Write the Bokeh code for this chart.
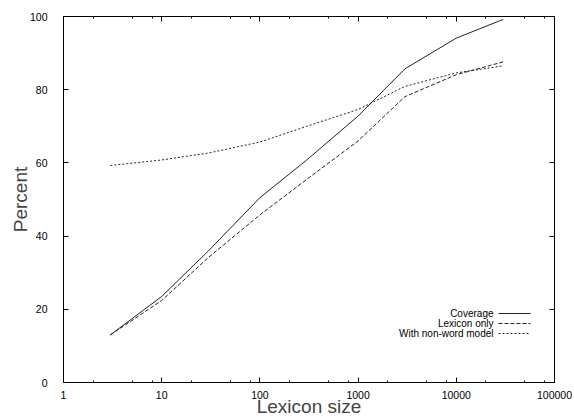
from bokeh.plotting import figure
from bokeh.models import (FixedTicker, LogAxis, LinearAxis, Label, Arrow, Range1d)
from bokeh.embed import file_html
from bokeh.resources import INLINE

# ---- data ----
lexicon_size = [3, 10, 30, 100, 300, 1000, 3000, 10000, 30000]
coverage = [13.0, 23.5, 36.0, 50.5, 60.8, 72.8, 85.7, 94.1, 99.2]
lexicon_only = [13.0, 22.4, 34.2, 45.8, 55.5, 66.0, 78.1, 84.1, 87.6]
with_nonword = [59.3, 60.8, 62.7, 65.7, 70.0, 74.6, 80.9, 84.6, 86.5]

series_names = ["Coverage", "Lexicon only", "With non-word model"]
series_values = [coverage, lexicon_only, with_nonword]
series_dash = ["solid", "4 2", "2 2"]

x_ticks = [1, 10, 100, 1000, 10000, 100000]
x_tick_labels = ["1", "10", "100", "1000", "10000", "100000"]
x_minor = [m * d for d in [1, 10, 100, 1000, 10000] for m in (2, 5, 8)]
y_ticks = [0, 20, 40, 60, 80, 100]

FONT = "Liberation Sans"

p = figure(width=574, height=419, x_axis_type="log",
           x_range=Range1d(1, 100000), y_range=Range1d(0, 100),
           output_backend="svg", toolbar_location=None,
           min_border_left=63, min_border_right=20,
           min_border_top=16, min_border_bottom=20)
p.grid.visible = False
p.outline_line_color = "black"
p.outline_line_width = 1
p.background_fill_color = "white"
p.border_fill_color = "white"

for vals, dash in zip(series_values, series_dash):
    p.line(lexicon_size, vals, line_color="#222222", line_width=1, line_dash=dash)

def style_axis(ax, show_labels):
    ax.axis_line_color = "black"
    ax.major_tick_in = 5
    ax.major_tick_out = 0
    ax.minor_tick_in = 2
    ax.minor_tick_out = 0
    ax.major_tick_line_color = "black"
    ax.minor_tick_line_color = "black"
    ax.major_label_text_font = FONT
    ax.major_label_text_color = "black"
    if show_labels:
        ax.major_label_text_font_size = "10.5px"
    else:
        ax.major_label_text_font_size = "1px"
        ax.major_label_text_alpha = 0
        ax.major_label_standoff = 0

xt = FixedTicker(ticks=x_ticks, minor_ticks=x_minor)
yt = FixedTicker(ticks=y_ticks, minor_ticks=[])
overrides = {t: lab for t, lab in zip(x_ticks, x_tick_labels)}

xa = p.xaxis[0]
xa.ticker = xt
xa.major_label_overrides = overrides
style_axis(xa, True)
xa.major_label_standoff = 8
xa.axis_label = "Lexicon size"
xa.axis_label_text_font = FONT
xa.axis_label_text_font_size = "19px"
xa.axis_label_text_font_style = "normal"
xa.axis_label_standoff = -6

ya = p.yaxis[0]
ya.ticker = yt
style_axis(ya, True)
ya.major_label_standoff = 16
ya.axis_label = "Percent"
ya.axis_label_text_font = FONT
ya.axis_label_text_font_size = "19px"
ya.axis_label_text_font_style = "normal"
ya.axis_label_standoff = -4

top = LogAxis(ticker=FixedTicker(ticks=x_ticks, minor_ticks=x_minor),
              major_label_overrides=overrides)
style_axis(top, False)
p.add_layout(top, "above")
right = LinearAxis(ticker=FixedTicker(ticks=y_ticks, minor_ticks=[]))
style_axis(right, False)
p.add_layout(right, "right")

# legend (text right-aligned, sample line on the right, gnuplot style)
row_y = [69, 59, 49]
for name, dash, yy in zip(series_names, series_dash, row_y):
    p.add_layout(Label(x=430, y=yy, x_units="screen", y_units="screen",
                       text=name, text_align="right", text_baseline="middle",
                       text_font=FONT, text_font_size="10px", text_color="black"))
    p.add_layout(Arrow(x_start=435, y_start=yy, x_end=467, y_end=yy,
                       start_units="screen", end_units="screen",
                       start=None, end=None, line_color="#222222",
                       line_width=1, line_dash=dash))

open("out.html", "w").write(file_html(p, INLINE))
